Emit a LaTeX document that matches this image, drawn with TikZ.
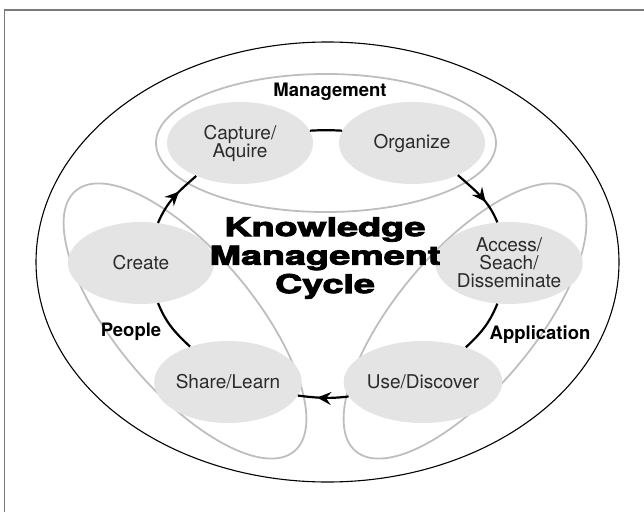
\documentclass[tikz,border=0pt]{standalone}
\usepackage{fontspec}
\setmainfont{TeX Gyre Heros}
\newfontfamily\titlefont[BoldFeatures={FakeBold=3}]{TeX Gyre Heros}
\usetikzlibrary{shapes.geometric,arrows.meta,decorations.markings}
\definecolor{phasefill}{HTML}{E4E4E4}
\definecolor{groupline}{HTML}{BEBEBE}
\definecolor{frameline}{HTML}{7A7A7A}
\definecolor{phasetext}{HTML}{2B2B2B}
\tikzset{
  phase/.style={ellipse, fill=phasefill, minimum width=146pt, minimum height=82pt,
    inner sep=0pt, align=center, text=phasetext, font=\fontsize{19}{18}\selectfont},
  group/.style={draw=groupline, line width=1.8pt},
  link/.style={line width=2.2pt},
  flow/.style={link, >={Stealth[length=14pt,width=13pt,inset=5pt]}, postaction={decorate},
    decoration={markings, mark=at position 0.62 with {\arrow{>}}}},
  area/.style={font=\fontsize{18.5}{20}\selectfont\bfseries},
  title/.style={align=center, xscale=1.45, font=\titlefont\bfseries\fontsize{26}{28.5}\selectfont}
}
\begin{document}
\begin{tikzpicture}[x=1pt,y=1pt]
  \useasboundingbox (0,0) rectangle (644,512);
  \draw[frameline, line width=1.5pt] (4.5,0) -- (4.5,502) -- (644,502);
  \draw[line width=1.1pt] (327.5,250) ellipse [x radius=291.5, y radius=220];
  \draw[group] (326,369) ellipse [x radius=170, y radius=69];
  \draw[group, rotate around={-50:(185,191)}] (185,191) ellipse [x radius=170, y radius=69];
  \draw[group, rotate around={50:(465,191)}] (465,191) ellipse [x radius=170, y radius=69];

  \node[phase] (capture) at (240,369) {Capture/\\Aquire};
  \node[phase] (organize) at (412,369) {Organize};
  \node[phase] (access) at (509,249) {Access/\\Seach/\\Disseminate};
  \node[phase] (use) at (423,130) {Use/Discover};
  \node[phase] (share) at (228,130) {Share/Learn};
  \node[phase] (create) at (141,249) {Create};

  \node[area] (management) at (330,420) {Management};
  \node[area] (people) at (131,180) {People};
  \node[area] (application) at (540,177) {Application};
  \node[title] (cycle) at (325,254) {Knowledge\\Management\\Cycle};

  \draw[flow] (create.67) to[out=67, in=221] (capture.217);
  \draw[link] (capture.10) to[out=3, in=177] (organize.170);
  \draw[flow] (organize.-35) to[out=-42, in=112] (access.106);
  \draw[link] (access.254) to[out=-112, in=43] (use.39);
  \draw[flow] (use.191) to[out=187, in=-7] (share.349);
  \draw[link] (share.137) to[out=137, in=-68] (create.293);
\end{tikzpicture}
\end{document}
